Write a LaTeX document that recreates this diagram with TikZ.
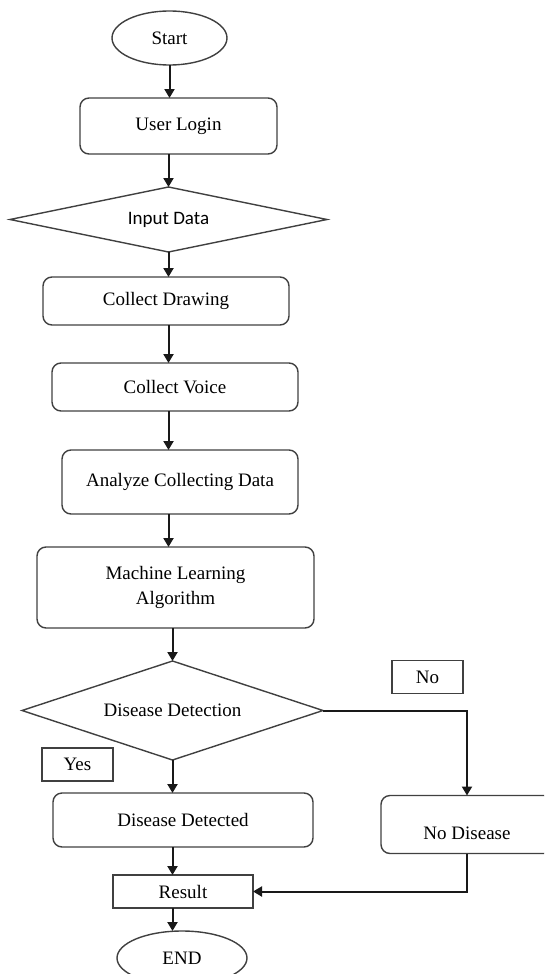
\documentclass[tikz,border=0pt]{standalone}
\usepackage{fontspec}
\setmainfont{Liberation Serif}
\newfontfamily\inputfont{Carlito}
\usetikzlibrary{positioning,arrows.meta,shapes.geometric}

\begin{document}
\begin{tikzpicture}[
    x=1pt, y=1pt,
    font=\fontsize{19}{25}\selectfont,
    every node/.style={outer sep=0pt},
    stepbox/.style={draw=black!75, line width=1.4pt, rounded corners=9pt, align=center},
    plainbox/.style={draw=black!75, line width=1.4pt, align=center},
    tag/.style={draw=black!75, line width=1.4pt, minimum width=71pt, minimum height=33pt},
    term/.style={draw=black!75, line width=1.4pt, ellipse},
    decision/.style={draw=black!75, line width=1.4pt, diamond},
    arr/.style={line width=2pt, black!90, -{Triangle[length=9pt,width=10pt]}}
]
\useasboundingbox (0,0) rectangle (544,-974);
\clip (0,0) rectangle (544,-974);

\node[term, minimum width=115pt, minimum height=54pt] (start) at (169.5,-38) {Start};
\node[stepbox, minimum width=197pt, minimum height=56pt, below=33pt of start, xshift=9pt] (login) {User Login};
\node[decision, aspect=4.9, minimum width=317pt, minimum height=65pt, font=\fontsize{19}{25}\selectfont\inputfont, below=33pt of login, xshift=-10pt] (input) {Input Data};
\node[stepbox, minimum width=246pt, minimum height=48pt, below=25pt of input, xshift=-2.5pt] (drawing) {Collect Drawing};
\node[stepbox, minimum width=246pt, minimum height=48pt, below=38pt of drawing, xshift=9pt] (voice) {Collect Voice};
\node[stepbox, minimum width=236pt, minimum height=64pt, below=39pt of voice, xshift=5pt] (analyze) {Analyze Collecting Data};
\node[stepbox, minimum width=277pt, minimum height=81pt, below=33pt of analyze, xshift=-4.5pt] (ml) {Machine Learning\\Algorithm};
\node[decision, aspect=3.04, minimum width=301pt, minimum height=99pt, below=33pt of ml, xshift=-3pt] (detect) {Disease Detection};
\node[stepbox, minimum width=260pt, minimum height=54pt, below=33pt of detect, xshift=10.5pt] (found) {Disease Detected};
\node[plainbox, minimum width=140pt, minimum height=33pt, below=28pt of found] (result) {Result};
\node[term, minimum width=130pt, minimum height=54pt, below=23pt of result, xshift=-1pt] (stop) {END};

% no branch
\node[tag, above right=17pt and 69pt of detect.east] (nolbl) {No};
\node[stepbox, minimum width=172pt, minimum height=58pt, text height=33pt, text depth=4pt, below=85pt of detect.east, xshift=144pt] (healthy) {No Disease};
% yes branch
\node[tag, left=59.5pt of detect.south, anchor=north east, yshift=12pt] (yeslbl) {Yes};

\draw[arr] (start) -- (start |- login.north);
\draw[arr] (login.south -| input.north) -- (input.north);
\draw[arr] (input.south) -- (input.south |- drawing.north);
\draw[arr] (drawing.south -| input) -- (voice.north -| input);
\draw[arr] (voice.south -| input) -- (analyze.north -| input);
\draw[arr] (analyze.south -| input) -- (ml.north -| input);
\draw[arr] (ml.south -| detect) -- (detect.north);
\draw[arr] (detect.south) -- (found.north -| detect);
\draw[arr] (found.south -| detect) -- (result.north -| detect);
\draw[arr] (result.south -| detect) -- (stop.north -| detect);
\draw[arr] (detect.east) -| (healthy.north);
\draw[arr] (healthy.south) |- (result.east);
\end{tikzpicture}
\end{document}
